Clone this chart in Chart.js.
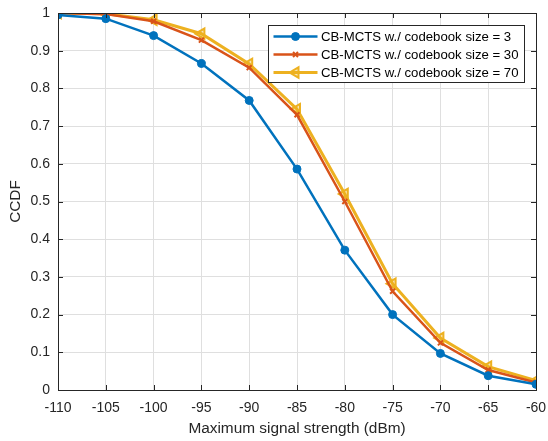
<!DOCTYPE html>
<html>
<head>
<meta charset="utf-8">
<script src="https://cdn.jsdelivr.net/npm/chart.js@4/dist/chart.umd.min.js"></script>
<style>
html,body{margin:0;padding:0;background:#fff;}
#wrap{width:548px;height:441px;position:relative;}
</style>
</head>
<body>
<div id="wrap"><canvas id="c" width="548" height="441"></canvas></div>
<script>
const xValues = [-110, -105, -100, -95, -90, -85, -80, -75, -70, -65, -60];
const size3  = [0.995, 0.985, 0.940, 0.866, 0.768, 0.586, 0.371, 0.200, 0.097, 0.038, 0.015];
const size30 = [1.000, 0.997, 0.978, 0.928, 0.855, 0.730, 0.500, 0.262, 0.125, 0.053, 0.020];
const size70 = [1.000, 0.998, 0.982, 0.945, 0.865, 0.745, 0.520, 0.282, 0.138, 0.062, 0.025];
const seriesLabels = ['CB-MCTS w./ codebook size = 3', 'CB-MCTS w./ codebook size = 30', 'CB-MCTS w./ codebook size = 70'];
const xTicks = [-110, -105, -100, -95, -90, -85, -80, -75, -70, -65, -60];
const yTicks = [0, 0.1, 0.2, 0.3, 0.4, 0.5, 0.6, 0.7, 0.8, 0.9, 1];

const FONT = "'Liberation Sans', Arial, Helvetica, sans-serif";
const toPts = arr => arr.map((v, i) => ({x: xValues[i], y: v}));

const boxPlugin = {
  id: 'boxPlugin',
  afterDatasetsDraw(chart) {
    const {ctx, chartArea: a, scales} = chart;
    ctx.save();
    ctx.strokeStyle = '#262626';
    ctx.lineWidth = 1;
    ctx.beginPath();
    xTicks.forEach(t => {
      const px = Math.round(scales.x.getPixelForValue(t)) + 0.5;
      ctx.moveTo(px, a.bottom); ctx.lineTo(px, a.bottom - 5);
      ctx.moveTo(px, a.top); ctx.lineTo(px, a.top + 5);
    });
    yTicks.forEach(t => {
      const py = Math.round(scales.y.getPixelForValue(t)) + 0.5;
      ctx.moveTo(a.left, py); ctx.lineTo(a.left + 5, py);
      ctx.moveTo(a.right, py); ctx.lineTo(a.right - 5, py);
    });
    ctx.stroke();
    ctx.strokeRect(Math.round(a.left) + 0.5, Math.round(a.top) + 0.5, Math.round(a.right - a.left), Math.round(a.bottom - a.top));
    ctx.restore();
  },
  afterDraw(chart) {
    const {ctx} = chart;
    const x0 = 268.5, y0 = 25.5, w = 256, h = 57;
    ctx.save();
    ctx.fillStyle = '#fff';
    ctx.fillRect(x0, y0, w, h);
    ctx.strokeStyle = '#262626';
    ctx.lineWidth = 1;
    ctx.strokeRect(x0, y0, w, h);
    chart.data.datasets.forEach((ds, i) => {
      const cy = y0 + 11 + i * 18;
      ctx.strokeStyle = ds.borderColor;
      ctx.lineWidth = ds.borderWidth;
      ctx.beginPath();
      ctx.moveTo(x0 + 5, cy); ctx.lineTo(x0 + 49, cy);
      ctx.stroke();
      ctx.fillStyle = ds.pointBackgroundColor;
      ctx.strokeStyle = ds.pointBorderColor;
      ctx.lineWidth = ds.pointBorderWidth;
      Chart.helpers.drawPoint(ctx, {
        pointStyle: ds.pointStyle, rotation: ds.pointRotation || 0,
        radius: ds.pointRadius, borderWidth: ds.pointBorderWidth
      }, x0 + 27, cy);
      ctx.fillStyle = '#000';
      ctx.font = '13.2px ' + FONT;
      ctx.textBaseline = 'middle';
      ctx.fillText(ds.label, x0 + 52.5, cy + 0.5);
    });
    ctx.restore();
  }
};

new Chart(document.getElementById('c'), {
  type: 'line',
  data: {
    datasets: [
      {label: seriesLabels[0], data: toPts(size3), borderColor: '#0072BD', backgroundColor: '#0072BD',
       pointBackgroundColor: '#0072BD', pointBorderColor: '#0072BD', borderWidth: 2.5, pointStyle: 'circle',
       pointRadius: 4, pointBorderWidth: 1},
      {label: seriesLabels[1], data: toPts(size30), borderColor: '#D95319', backgroundColor: '#D95319',
       pointBackgroundColor: '#D95319', pointBorderColor: '#D95319', borderWidth: 2.5, pointStyle: 'crossRot',
       pointRadius: 3.5, pointBorderWidth: 2},
      {label: seriesLabels[2], data: toPts(size70), borderColor: '#EDB120', backgroundColor: 'rgba(237,177,32,0.35)',
       pointBackgroundColor: 'rgba(237,177,32,0.35)', pointBorderColor: '#EDB120', borderWidth: 3, pointStyle: 'triangle',
       pointRotation: -90, pointRadius: 6, pointBorderWidth: 2}
    ]
  },
  options: {
    responsive: false,
    animation: false,
    layout: {padding: {left: 0, right: 12, top: 13, bottom: 0}},
    plugins: {legend: {display: false}, tooltip: {enabled: false}},
    elements: {line: {tension: 0}},
    scales: {
      x: {
        type: 'linear', min: -110, max: -60,
        afterBuildTicks: s => { s.ticks = xTicks.map(v => ({value: v})); },
        afterFit: s => { s.height = 51; s.paddingLeft = 0; s.paddingRight = 0; },
        grid: {color: '#dfdfdf', lineWidth: 1, drawTicks: false},
        border: {display: false},
        ticks: {color: '#262626', font: {family: FONT, size: 14}, padding: 10, maxRotation: 0, autoSkip: false},
        title: {display: true, text: 'Maximum signal strength (dBm)', color: '#262626', font: {family: FONT, size: 15.4}, padding: {top: 0, bottom: 3}}
      },
      y: {
        min: 0, max: 1,
        afterBuildTicks: s => { s.ticks = yTicks.map(v => ({value: v})); },
        afterFit: s => { s.width = 58; s.paddingTop = 0; s.paddingBottom = 0; },
        grid: {color: '#dfdfdf', lineWidth: 1, drawTicks: false},
        border: {display: false},
        ticks: {color: '#262626', font: {family: FONT, size: 14}, padding: 8,
                callback: v => String(Math.round(v * 10) / 10)},
        title: {display: true, text: 'CCDF', color: '#262626', font: {family: FONT, size: 15.4}, padding: {top: 7, bottom: 0}}
      }
    }
  },
  plugins: [boxPlugin]
});
</script>
</body>
</html>
